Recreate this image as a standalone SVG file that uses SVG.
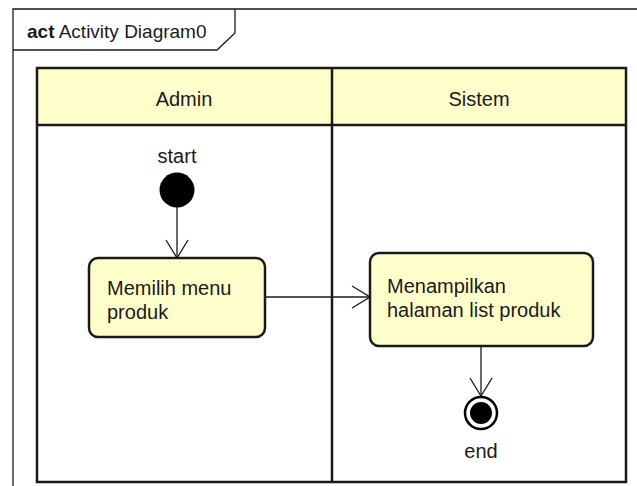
<svg xmlns="http://www.w3.org/2000/svg" width="637" height="486" viewBox="0 0 637 486">
<defs>
<style>
text{font-family:"Liberation Sans",Arial,sans-serif;fill:#1a1a1a}
.lbl{font-size:20px}
.act{fill:#FFFFCC;stroke:#1a1a1a;stroke-width:2.5}
.lane{fill:none;stroke:#1a1a1a;stroke-width:2.5}
.edge{fill:none;stroke:#1a1a1a;stroke-width:1.3}
</style>
<marker id="arr" viewBox="0 0 20 24" refX="19" refY="12" markerWidth="20" markerHeight="24" markerUnits="userSpaceOnUse" orient="auto">
<path d="M1,1 L19,12 L1,23" fill="none" stroke="#1a1a1a" stroke-width="1.3"/>
</marker>
</defs>
<rect width="637" height="486" fill="#ffffff"/>
<g id="frame">
<path d="M13,486 V9 H637" fill="none" stroke="#1a1a1a" stroke-width="1.3"/>
<path d="M13,50 H217 L235,33 V9" fill="none" stroke="#1a1a1a" stroke-width="1.3"/>
<text x="27" y="38" style="font-size:19px"><tspan font-weight="bold">act</tspan> Activity Diagram0</text>
</g>
<g id="swimlanes">
<rect x="37" y="68" width="589" height="57" fill="#FFFFCC"/>
<rect x="37" y="68" width="589" height="414" class="lane"/>
<line x1="37" y1="125" x2="626" y2="125" class="lane"/>
<line x1="332" y1="68" x2="332" y2="482" class="lane"/>
<text x="184" y="106" class="lbl" text-anchor="middle">Admin</text>
<text x="479" y="106" class="lbl" text-anchor="middle">Sistem</text>
</g>
<g id="connectors">
<line x1="177" y1="207" x2="177" y2="258" class="edge" marker-end="url(#arr)"/>
<line x1="265" y1="297" x2="370" y2="297" class="edge" marker-end="url(#arr)"/>
<line x1="481" y1="346" x2="481" y2="396" class="edge" marker-end="url(#arr)"/>
</g>
<g id="start">
<circle cx="177" cy="190" r="17.5" fill="#000"/>
<text x="177" y="163" class="lbl" text-anchor="middle">start</text>
</g>
<g id="memilih">
<rect x="89" y="258" width="176" height="79" rx="9" class="act"/>
<text x="107" y="295" class="lbl">Memilih menu</text>
<text x="107" y="319" class="lbl">produk</text>
</g>
<g id="menampilkan">
<rect x="370" y="253" width="223" height="93" rx="9" class="act"/>
<text x="387" y="293" class="lbl">Menampilkan</text>
<text x="387" y="317" class="lbl">halaman list produk</text>
</g>
<g id="end">
<circle cx="481" cy="413" r="16" fill="#fff" stroke="#000" stroke-width="2.5"/>
<circle cx="481" cy="413" r="11" fill="#000"/>
<text x="481" y="458" class="lbl" text-anchor="middle">end</text>
</g>
</svg>
